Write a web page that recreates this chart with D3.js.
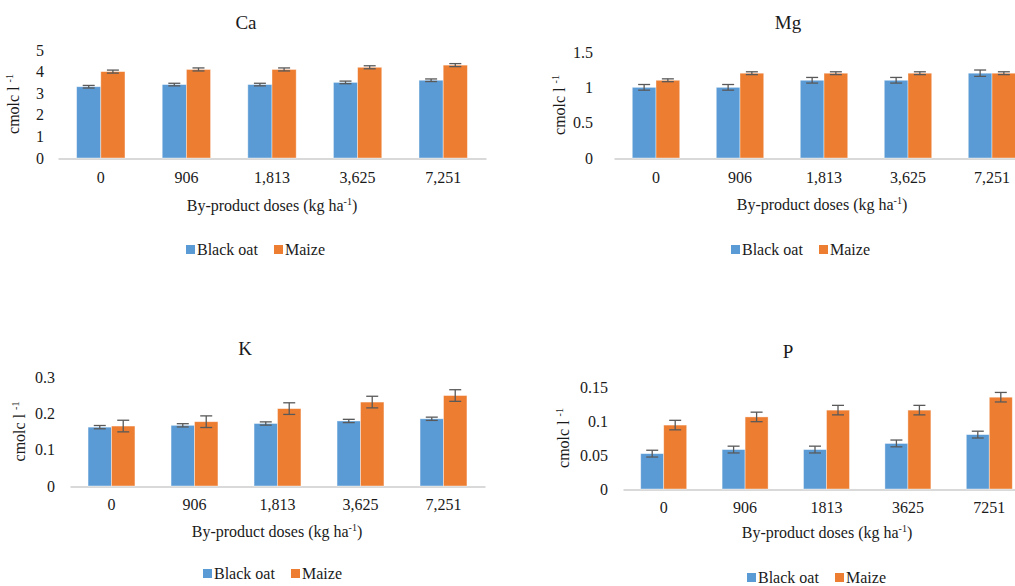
<!DOCTYPE html>
<html>
<head>
<meta charset="utf-8">
<script src="https://cdn.jsdelivr.net/npm/d3@7"></script>
<style>
  body { margin: 0; background: #fff; }
  svg text { font-family: "Liberation Serif", "Times New Roman", "DejaVu Serif", serif !important; }
</style>
</head>
<body>
<div id="chart"></div>
<script>
// ---- data ----
const dosesComma = ["0", "906", "1,813", "3,625", "7,251"];
const dosesPlain = ["0", "906", "1813", "3625", "7251"];
const seriesNames = ["Black oat", "Maize"];

const caBlackOat = [3.3, 3.4, 3.4, 3.5, 3.6];
const caMaize = [4.0, 4.1, 4.1, 4.2, 4.3];
const caBlackOatErr = [0.06, 0.06, 0.06, 0.06, 0.06];
const caMaizeErr = [0.07, 0.07, 0.07, 0.07, 0.07];
const caTicks = [0, 1, 2, 3, 4, 5];

const mgBlackOat = [1.0, 1.0, 1.1, 1.1, 1.2];
const mgMaize = [1.1, 1.2, 1.2, 1.2, 1.2];
const mgBlackOatErr = [0.04, 0.04, 0.04, 0.04, 0.045];
const mgMaizeErr = [0.02, 0.02, 0.02, 0.02, 0.02];
const mgTicks = [0, 0.5, 1, 1.5];

const kBlackOat = [0.162, 0.167, 0.172, 0.179, 0.185];
const kMaize = [0.165, 0.177, 0.213, 0.231, 0.249];
const kBlackOatErr = [0.0045, 0.0045, 0.0045, 0.0045, 0.0045];
const kMaizeErr = [0.016, 0.016, 0.016, 0.016, 0.016];
const kTicks = [0, 0.1, 0.2, 0.3];

const pBlackOat = [0.052, 0.058, 0.058, 0.067, 0.080];
const pMaize = [0.094, 0.106, 0.116, 0.116, 0.135];
const pBlackOatErr = [0.005, 0.005, 0.005, 0.005, 0.005];
const pMaizeErr = [0.007, 0.007, 0.007, 0.007, 0.007];
const pTicks = [0, 0.05, 0.1, 0.15];

const colors = { "Black oat": "#5B9BD5", "Maize": "#ED7D31" };

// ---- layout of the four panels ----
const panels = [
  { title: "Ca", labels: dosesComma, values: [caBlackOat, caMaize], errs: [caBlackOatErr, caMaizeErr], ticks: caTicks,
    xRange: [58, 486], yBase: 158, yTop: 50, tickPad: 14, titleX: 246, titleY: 29,
    yLabelX: 19, xLabelX: 272, xTickPad: 13, xLabelY: 211, legendX: 186, legendY: 255 },
  { title: "Mg", labels: dosesComma, values: [mgBlackOat, mgMaize], errs: [mgBlackOatErr, mgMaizeErr], ticks: mgTicks,
    xRange: [614, 1034], yBase: 158, yTop: 52, tickPad: 21, titleX: 788, titleY: 29,
    yLabelX: 565, xLabelX: 822, xTickPad: 13, xLabelY: 210, legendX: 731, legendY: 255 },
  { title: "K", labels: dosesComma, values: [kBlackOat, kMaize], errs: [kBlackOatErr, kMaizeErr], ticks: kTicks,
    xRange: [70, 485], yBase: 486, yTop: 377, tickPad: 15, titleX: 245, titleY: 355,
    yLabelX: 25, xLabelX: 277, xTickPad: 12.5, xLabelY: 537, legendX: 203, legendY: 579 },
  { title: "P", labels: dosesPlain, values: [pBlackOat, pMaize], errs: [pBlackOatErr, pMaizeErr], ticks: pTicks,
    xRange: [623, 1030], yBase: 489, yTop: 387, tickPad: 15, titleX: 788, titleY: 358,
    yLabelX: 569, xLabelX: 827, xTickPad: 12.5, xLabelY: 538, legendX: 747, legendY: 583 }
];

const width = 1015;
const height = 586;
const groupFrac = 0.565; // share of each category band taken by the pair of bars
const textColor = "#1a1a1a";
const tickFont = 16;

const svg = d3.select("#chart")
  .append("svg")
  .attr("width", width)
  .attr("height", height);

panels.forEach(p => {
  const g = svg.append("g");

  const x0 = d3.scaleBand().domain(p.labels).range(p.xRange).padding(0);
  const bw = x0.bandwidth();
  const x1 = d3.scaleBand().domain(seriesNames)
    .range([bw * (1 - groupFrac) / 2, bw * (1 + groupFrac) / 2]);
  const yMax = p.ticks[p.ticks.length - 1];
  const y = d3.scaleLinear().domain([0, yMax]).range([p.yBase, p.yTop]);

  // rows: one per category, each with both series
  const rows = p.labels.map((lab, i) => ({
    label: lab,
    items: seriesNames.map((s, j) => ({ series: s, value: p.values[j][i], err: p.errs[j][i] }))
  }));

  // x axis (light baseline + labels)
  const xAxis = g.append("g")
    .attr("transform", `translate(0,${p.yBase + 0.5})`)
    .call(d3.axisBottom(x0).tickSize(0).tickSizeOuter(0).tickPadding(p.xTickPad));
  xAxis.attr("font-family", null).attr("font-size", tickFont);
  xAxis.select(".domain").attr("stroke", "#D9D9D9").attr("stroke-width", 2);
  xAxis.selectAll("text").attr("fill", textColor);

  // y axis labels only
  const yAxis = g.append("g")
    .attr("transform", `translate(${p.xRange[0]},0)`)
    .call(d3.axisLeft(y).tickValues(p.ticks).tickFormat(d => String(d)).tickSize(0).tickPadding(p.tickPad));
  yAxis.attr("font-family", null).attr("font-size", tickFont);
  yAxis.select(".domain").remove();
  yAxis.selectAll("text").attr("fill", textColor);

  // bars
  const groups = g.selectAll(".grp")
    .data(rows)
    .enter()
    .append("g")
    .attr("class", "grp")
    .attr("transform", d => `translate(${x0(d.label)},0)`);

  groups.selectAll("rect")
    .data(d => d.items)
    .enter()
    .append("rect")
    .attr("x", d => x1(d.series))
    .attr("width", x1.bandwidth())
    .attr("y", d => y(d.value))
    .attr("height", d => p.yBase - y(d.value))
    .attr("fill", d => colors[d.series])
    .attr("stroke", "#fff")
    .attr("stroke-opacity", 0.5)
    .attr("stroke-width", 0.8);

  // error bars
  const cap = 6;
  const eb = groups.selectAll(".err")
    .data(d => d.items)
    .enter()
    .append("g")
    .attr("class", "err")
    .attr("stroke", "#595959")
    .attr("stroke-width", 1.3);
  const cx = d => x1(d.series) + x1.bandwidth() / 2;
  eb.append("line")
    .attr("x1", cx).attr("x2", cx)
    .attr("y1", d => y(d.value + d.err)).attr("y2", d => y(d.value - d.err));
  eb.append("line")
    .attr("x1", d => cx(d) - cap).attr("x2", d => cx(d) + cap)
    .attr("y1", d => y(d.value + d.err)).attr("y2", d => y(d.value + d.err));
  eb.append("line")
    .attr("x1", d => cx(d) - cap).attr("x2", d => cx(d) + cap)
    .attr("y1", d => y(d.value - d.err)).attr("y2", d => y(d.value - d.err));

  // panel title
  g.append("text")
    .attr("x", p.titleX)
    .attr("y", p.titleY)
    .attr("text-anchor", "middle")
    .attr("font-size", 19)
    .attr("fill", textColor)
    .text(p.title);

  // y axis title
  const yt = g.append("text")
    .attr("transform", `translate(${p.yLabelX},${(p.yBase + p.yTop) / 2}) rotate(-90)`)
    .attr("text-anchor", "middle")
    .attr("font-size", 16)
    .attr("fill", textColor);
  yt.append("tspan").text("cmolc l ");
  yt.append("tspan").attr("font-size", 10).attr("dy", -6).text("-1");

  // x axis title
  const xt = g.append("text")
    .attr("x", p.xLabelX)
    .attr("y", p.xLabelY)
    .attr("text-anchor", "middle")
    .attr("font-size", 16)
    .attr("fill", textColor);
  xt.append("tspan").text("By-product doses (kg ha");
  xt.append("tspan").attr("font-size", 10).attr("dy", -6).text("-1");
  xt.append("tspan").attr("dy", 6).text(")");

  // legend
  const lg = g.append("g").attr("transform", `translate(${p.legendX},${p.legendY})`);
  seriesNames.forEach((s, i) => {
    const item = lg.append("g").attr("transform", `translate(${i * 88},0)`);
    item.append("rect")
      .attr("x", 0).attr("y", -10)
      .attr("width", 9).attr("height", 9)
      .attr("fill", colors[s]);
    item.append("text")
      .attr("x", 11).attr("y", 0)
      .attr("font-size", 16)
      .attr("fill", textColor)
      .text(s);
  });
});
</script>
</body>
</html>
